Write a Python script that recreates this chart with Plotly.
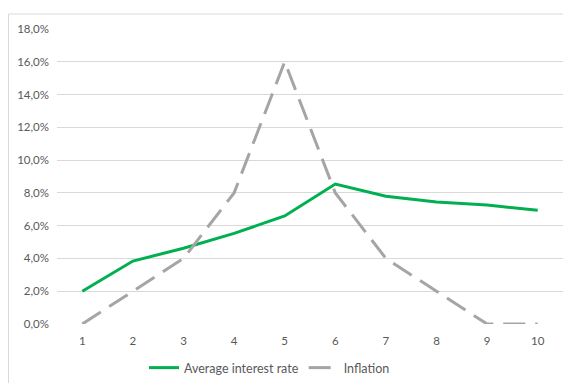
import plotly.graph_objects as go

periods = [1, 2, 3, 4, 5, 6, 7, 8, 9, 10]
interest_rate = [2.0, 3.84, 4.62, 5.53, 6.59, 8.54, 7.8, 7.44, 7.26, 6.94]
inflation = [0, 2, 4, 8, 16, 8, 4, 2, 0, 0]
y_ticks = [0, 2, 4, 6, 8, 10, 12, 14, 16, 18]
y_tick_labels = [f"{v:.1f}%".replace(".", ",") for v in y_ticks]

fig = go.Figure()
fig.add_trace(go.Scatter(x=periods, y=interest_rate, mode="lines",
                         name="Average interest rate",
                         line=dict(color="#00B050", width=3)))
fig.add_trace(go.Scatter(x=periods, y=inflation, mode="lines",
                         name="Inflation",
                         line=dict(color="#A5A5A5", width=3, dash="22px,10px")))

font_color = "#595959"
fig.update_layout(
    width=563, height=375,
    margin=dict(l=49, r=8, t=21, b=59, autoexpand=False),
    paper_bgcolor="white", plot_bgcolor="white",
    font=dict(family="Lato, Open Sans, sans-serif", size=12, color=font_color),
    showlegend=True,
    legend=dict(orientation="h", x=0.42, xanchor="center", xref="paper",
                yref="container", y=0.04, yanchor="middle",
                font=dict(size=12.5, color=font_color), itemwidth=30,
                bgcolor="rgba(0,0,0,0)"),
    xaxis=dict(range=[0.5, 10.5], tickvals=periods, ticktext=[str(p) for p in periods],
               showgrid=False, zeroline=False, showline=False, ticks="",
               ticklabelstandoff=8,
               tickfont=dict(size=11.5, color=font_color)),
    yaxis=dict(range=[0, 18], tickvals=y_ticks, ticktext=y_tick_labels,
               showgrid=True, gridcolor="#D9D9D9", gridwidth=1,
               zeroline=False, showline=False, ticks="", ticklabelstandoff=7,
               tickfont=dict(size=11.5, color=font_color)),
    shapes=[
        dict(type="line", xref="paper", yref="paper", x0=-0.0958, x1=-0.0958,
             y0=-0.25, y1=1.0508, line=dict(color="#D9D9D9", width=1)),
        dict(type="line", xref="paper", yref="paper", x0=-0.0958, x1=1.05,
             y0=1.0508, y1=1.0508, line=dict(color="#D9D9D9", width=1)),
    ],
)

fig.write_html("out.html")
